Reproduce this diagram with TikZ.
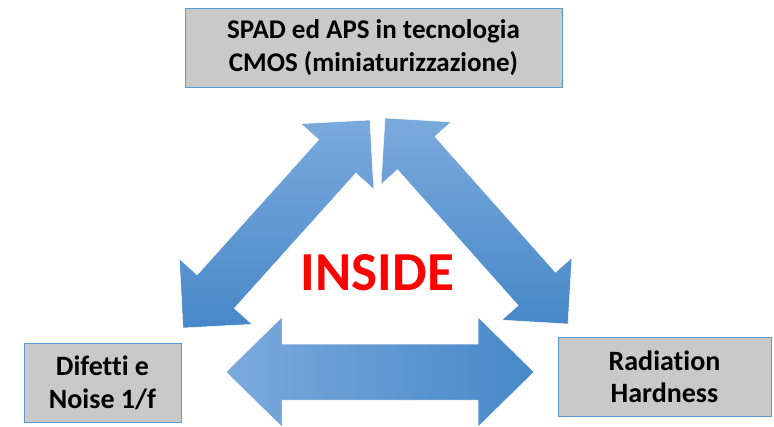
\documentclass[tikz,border=0pt]{standalone}
\usepackage{fontspec}
\setmainfont[RawFeature={-liga}]{Carlito}
\usetikzlibrary{calc}
\definecolor{box_gray}{HTML}{C9C9C9}
\definecolor{box_blue}{HTML}{5B9BD5}
\definecolor{arrow_light}{HTML}{7BAADD}
\definecolor{arrow_dark}{HTML}{4788C8}
\definecolor{inside_red}{HTML}{FF0000}
% #1 style, #2 #3 tips, #4 head length, #5 head half width, #6 shaft half width
\newcommand{\dblarrow}[6]{%
  \coordinate (#2h) at ($(#2)!#4!(#3)$);
  \coordinate (#3h) at ($(#3)!#4!(#2)$);
  \path[#1] (#2) -- ($(#2h)!#5!90:(#3)$) -- ($(#2h)!#6!90:(#3)$)
    -- ($(#3h)!#6!-90:(#2)$) -- ($(#3h)!#5!-90:(#2)$) -- (#3)
    -- ($(#3h)!#5!90:(#2)$) -- ($(#3h)!#6!90:(#2)$)
    -- ($(#2h)!#6!-90:(#3)$) -- ($(#2h)!#5!-90:(#3)$) -- cycle;
}

\begin{document}
\begin{tikzpicture}[x=1pt, y=-1pt,
    labelbox/.style={draw=box_blue, line width=1pt, fill=box_gray, align=center, inner sep=0pt},
    diagarrow/.style={draw=white, line width=0.5pt, top color=arrow_light, bottom color=arrow_dark},
    flatarrow/.style={draw=white, line width=0.5pt, left color=arrow_light, right color=arrow_dark}]
  \useasboundingbox (0,0) rectangle (774,426);

  \node[labelbox, minimum width=377pt, minimum height=79pt, font=\fontsize{27}{33}\selectfont\bfseries]
    (cmos) at (373.5,47.5) {SPAD ed APS in tecnologia\\CMOS (miniaturizzazione)};
  \node[labelbox, minimum width=157pt, minimum height=79pt, font=\fontsize{28}{33}\selectfont\bfseries]
    (noise) at (102.5,382.5) {Difetti e\\Noise 1/f};
  \node[labelbox, minimum width=213pt, minimum height=79pt, font=\fontsize{28}{32}\selectfont\bfseries]
    (rad) at (664.5,376.5) {Radiation\\Hardness};

  % arrow tips
  \coordinate (ltop) at (370,120);
  \coordinate (lbot) at (183,328);
  \coordinate (rtop) at (385,118);
  \coordinate (rbot) at (568,324);
  \coordinate (bleft) at (226,372);
  \coordinate (bright) at (534,372);

  \dblarrow{diagarrow}{ltop}{lbot}{49pt}{49pt}{25pt}
  \dblarrow{diagarrow}{rtop}{rbot}{47pt}{47pt}{25pt}
  \dblarrow{flatarrow}{bleft}{bright}{56pt}{55pt}{28pt}

  \node[text=inside_red, font=\fontsize{55}{60}\selectfont\bfseries, anchor=base, inner sep=0pt]
    (inside) at (377.5,290) {INSIDE};
\end{tikzpicture}
\end{document}
